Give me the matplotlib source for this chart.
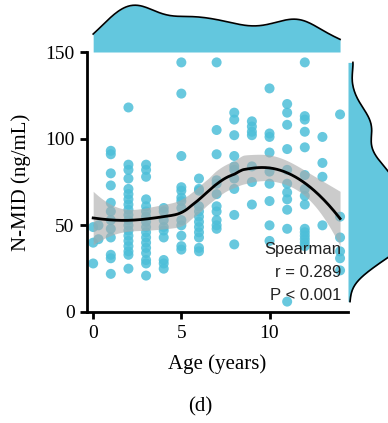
import numpy as np
import matplotlib
matplotlib.use("Agg")
import matplotlib.pyplot as plt

# N-MID concentration (ng/mL) by age group (years)
AGE_GROUPS = [0, 0.3, 1, 2, 3, 4, 5, 6, 7, 8, 9, 10, 11, 12, 13, 14]
NMID_BY_AGE = [
    [49, 40, 28],
    [42, 50],
    [93, 91, 80, 73, 63, 58, 53, 48, 43, 33, 31, 22],
    [118, 85, 82, 77, 71, 68, 65, 62, 59, 56, 53, 50, 47, 44, 41, 38, 35, 33, 25],
    [85, 82, 78, 65, 61, 58, 55, 52, 49, 46, 43, 40, 37, 34, 30, 28, 21],
    [60, 58, 53, 49, 47, 43, 30, 28, 25],
    [144, 126, 90, 72, 70, 66, 64, 60, 53, 50, 44, 38, 36],
    [77, 71, 70, 61, 58, 55, 52, 49, 46, 43, 37, 35],
    [144, 105, 91, 76, 74, 68, 61, 58, 53, 50, 48],
    [115, 111, 102, 90, 84, 82, 77, 71, 56, 39],
    [110, 107, 104, 102, 84, 75, 62],
    [129, 103, 101, 92, 81, 74, 64, 50, 41],
    [120, 115, 108, 94, 82, 74, 69, 65, 59, 48, 6],
    [144, 113, 111, 104, 95, 79, 71, 67, 62, 48, 46, 44, 42, 40, 38],
    [101, 86, 78, 50],
    [114, 55, 43, 35, 31, 24],
]
STATS_TEXT = ["Spearman", "r = 0.289", "P < 0.001"]

DOT = "#4dbfd9"
FILL = "#63c7de"


def loess_row(x, g, k):
    """Weights of a local quadratic fit at g (tricube kernel, k nearest points)."""
    d = np.abs(x - g)
    h = np.sort(d)[k - 1]
    w = np.clip(1 - (d / h) ** 3, 0, None) ** 3
    X = np.column_stack([np.ones(len(x)), x - g, (x - g) ** 2])
    XtW = X.T * w
    return np.linalg.solve(XtW @ X, XtW)[0]


def loess(x, y, grid, span=0.75):
    k = int(np.ceil(span * len(x)))
    rows = np.array([loess_row(x, g, k) for g in grid])
    fit = rows @ y
    resid = y - np.array([loess_row(x, xi, k) @ y for xi in x])
    sigma = np.sqrt(np.sum(resid ** 2) / (len(x) - 3))
    se = sigma * np.sqrt(np.sum(rows ** 2, axis=1))
    return fit, 1.96 * se


def kde(values, grid, adjust=1.0):
    bw = adjust * values.std(ddof=1) * len(values) ** (-0.2)
    z = (grid[:, None] - values[None, :]) / bw
    return np.exp(-0.5 * z ** 2).sum(axis=1) / (len(values) * bw * np.sqrt(2 * np.pi))


ages = np.concatenate([[a] * len(v) for a, v in zip(AGE_GROUPS, NMID_BY_AGE)]).astype(float)
nmid = np.concatenate(NMID_BY_AGE).astype(float)

W, H = 388, 423
fig = plt.figure(figsize=(W / 100, H / 100), dpi=100)
serif = "Liberation Serif"

left, right, top, bottom = 87, 348, 52, 312
ax = fig.add_axes([left / W, 1 - bottom / H, (right - left) / W, (bottom - top) / H])
ax_top = fig.add_axes([left / W, 1 - top / H, (right - left) / W, top / H], sharex=ax)
ax_right = fig.add_axes([right / W, 1 - bottom / H, 75 / W, (bottom - top) / H], sharey=ax)

# scatter
ax.scatter(ages, nmid, s=52, color=DOT, alpha=0.85, edgecolors="none", zorder=2)

# smooth fit with 95% band
grid = np.linspace(ages.min(), ages.max(), 200)
fit, ci = loess(ages, nmid, grid)
ax.fill_between(grid, fit - ci, fit + ci, color="#a9a9a9", alpha=0.6, lw=0, zorder=3)
ax.plot(grid, fit, color="black", lw=2, zorder=4)

ax.set_xlim(-0.35, 14.45)
ax.set_ylim(0, 149)
ax.set_xticks([0, 5, 10])
ax.set_yticks([0, 50, 100, 150])
for s in ["top", "right"]:
    ax.spines[s].set_visible(False)
for s in ["left", "bottom"]:
    ax.spines[s].set_linewidth(2)
ax.spines["left"].set_bounds(0, 150)
ax.tick_params(width=2, length=5, labelsize=14, pad=4)
for lab in ax.get_xticklabels() + ax.get_yticklabels():
    lab.set_family(serif)
ax.yaxis.get_major_ticks()[-1].tick1line.set_clip_on(False)
ax.set_xlabel("Age (years)", family=serif, fontsize=15, labelpad=9)
ax.set_ylabel("N-MID (ng/mL)", family=serif, fontsize=15, labelpad=10)

for i, t in enumerate(STATS_TEXT):
    ax.text(0.975, 0.24 - i * 0.088, t, transform=ax.transAxes, ha="right", va="center",
            fontsize=12, family="Liberation Sans", color="#222222", zorder=5)

# marginal densities
gx = np.linspace(ages.min(), ages.max(), 200)
dx = kde(ages, gx, adjust=0.7)
ax_top.fill_between(gx, 0, dx, color=FILL, lw=0)
ax_top.plot(gx, dx, color="black", lw=1.2)
ax_top.set_ylim(0, dx.max() / 0.9)
ax_top.axis("off")

gy = np.linspace(nmid.min(), nmid.max(), 200)
dy = kde(nmid, gy, adjust=0.7)
ax_right.fill_betweenx(gy, 0, dy, color=FILL, lw=0)
ax_right.plot(dy, gy, color="black", lw=1.2)
ax_right.set_xlim(0, dy.max() / 0.95)
ax_right.axis("off")

fig.text(200 / W, 1 - 407 / H, "(d)", family=serif, fontsize=15, ha="center", va="center")

fig.savefig("out.png", dpi=100)
